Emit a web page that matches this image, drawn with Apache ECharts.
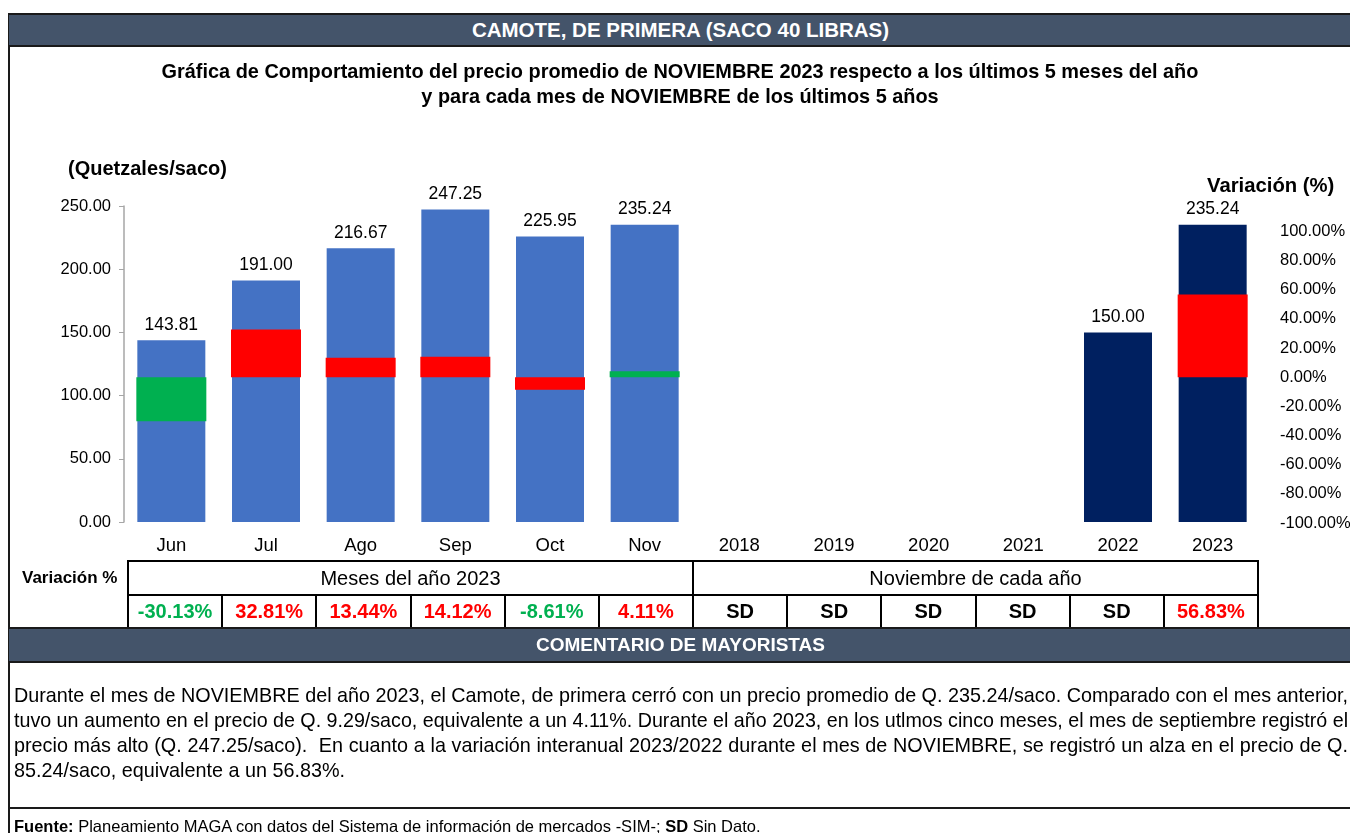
<!DOCTYPE html>
<html>
<head>
<meta charset="utf-8">
<script src="https://cdn.jsdelivr.net/npm/echarts@6.0.0/dist/echarts.min.js"></script>
<style>
  html, body { margin: 0; padding: 0; background: #fff; }
  body { width: 1350px; height: 833px; position: relative; overflow: hidden;
         font-family: 'Liberation Sans', Arial, sans-serif; color: #000; }
  #chart { position: absolute; left: 0; top: 0; width: 1350px; height: 833px; }
  .abs { position: absolute; }
  .band { position: absolute; left: 9px; width: 1343px; box-sizing: border-box;
          background: #44546A; border-top: 2px solid #1a1a1a; border-bottom: 2px solid #1a1a1a;
          color: #fff; font-weight: bold; text-align: center; white-space: nowrap; }
  .hl { position: absolute; height: 2px; background: #000; }
  .vl { position: absolute; width: 2px; background: #000; }
  .cell { position: absolute; text-align: center; white-space: nowrap; }
  .cline { position: absolute; left: 14px; white-space: nowrap; font-size: 19.8px; line-height: 25px; }
</style>
</head>
<body>
<div id="chart"></div>
<div id="overlay"></div>
<script>
// ---------------- data ----------------
const categories = ['Jun', 'Jul', 'Ago', 'Sep', 'Oct', 'Nov', '2018', '2019', '2020', '2021', '2022', '2023'];
const prices = [143.81, 191.00, 216.67, 247.25, 225.95, 235.24, null, null, null, null, 150.00, 235.24];
const variations = [-30.13, 32.81, 13.44, 14.12, -8.61, 4.11, null, null, null, null, null, 56.83];
const groupLabels = ['Meses del año 2023', 'Noviembre de cada año'];
const headerText = 'CAMOTE, DE PRIMERA (SACO 40 LIBRAS)';
const titleLines = ['Gráfica de Comportamiento del precio promedio de NOVIEMBRE 2023 respecto a los últimos 5 meses del año',
                    'y para cada mes de NOVIEMBRE de los últimos 5 años'];
const commentLines = [
  'Durante el mes de NOVIEMBRE del año 2023, el Camote, de primera cerró con un precio promedio de Q. 235.24/saco. Comparado con el mes anterior,',
  'tuvo un aumento en el precio de Q. 9.29/saco, equivalente a un 4.11%. Durante el año 2023, en los utlmos cinco meses, el mes de septiembre registró el',
  'precio más alto (Q. 247.25/saco).  En cuanto a la variación interanual 2023/2022 durante el mes de NOVIEMBRE, se registró un alza en el precio de Q.',
  '85.24/saco, equivalente a un 56.83%.'
];

// ---------------- styles ----------------
const FONT = "'Liberation Sans', Arial, sans-serif";
const priceColors = ['#4472C4', '#4472C4', '#4472C4', '#4472C4', '#4472C4', '#4472C4',
                     '#002060', '#002060', '#002060', '#002060', '#002060', '#002060'];
const varBarColors = ['#00B050', '#FF0000', '#FF0000', '#FF0000', '#FF0000', '#00B050',
                      '#FF0000', '#FF0000', '#FF0000', '#FF0000', '#FF0000', '#FF0000'];

// ---------------- chart ----------------
const chart = echarts.init(document.getElementById('chart'), null, { renderer: 'canvas' });
const option = {
  animation: false,
  textStyle: { fontFamily: FONT },
  title: [
    { text: titleLines.join('\n'), left: 680, top: 60, textAlign: 'center', padding: 0,
      textStyle: { fontSize: 19.9, fontWeight: 'bold', color: '#000', lineHeight: 25, fontFamily: FONT } },
    { text: '(Quetzales/saco)', left: 68, top: 159, padding: 0,
      textStyle: { fontSize: 20, fontWeight: 'bold', color: '#000', lineHeight: 20, fontFamily: FONT } },
    { text: 'Variación (%)', left: 1207, top: 176, padding: 0,
      textStyle: { fontSize: 20.3, fontWeight: 'bold', color: '#000', lineHeight: 20, fontFamily: FONT } }
  ],
  grid: [
    { left: 124, right: 90, top: 206, bottom: 311, containLabel: false, outerBoundsMode: 'none' },
    { left: 124, right: 90, top: 231.5, bottom: 310, containLabel: false, outerBoundsMode: 'none' }
  ],
  xAxis: [
    { type: 'category', gridIndex: 0, data: categories,
      axisLine: { show: false }, axisTick: { show: false },
      axisLabel: { color: '#000', fontSize: 18.5, margin: 14, fontFamily: FONT } },
    { type: 'category', gridIndex: 1, data: categories, show: false }
  ],
  yAxis: [
    { type: 'value', gridIndex: 0, min: 0, max: 250, interval: 50,
      axisLine: { show: true, lineStyle: { color: '#a6a6a6', width: 1.5 } },
      axisTick: { show: true, length: 5, lineStyle: { color: '#a6a6a6' } },
      splitLine: { show: false },
      axisLabel: { color: '#000', fontSize: 16.5, margin: 13, fontFamily: FONT,
                   formatter: v => v.toFixed(2) } },
    { type: 'value', gridIndex: 1, position: 'right', min: -100, max: 100, interval: 20,
      axisLine: { show: false }, axisTick: { show: false }, splitLine: { show: false },
      axisLabel: { color: '#000', fontSize: 16.5, margin: 20, align: 'left', fontFamily: FONT,
                   formatter: v => v.toFixed(2) + '%' } }
  ],
  series: [
    { name: 'Precio', type: 'bar', xAxisIndex: 0, yAxisIndex: 0, barWidth: 68, z: 2,
      data: prices.map((v, i) => ({ value: v, itemStyle: { color: priceColors[i] } })),
      label: { show: true, position: 'top', distance: 6, color: '#000', fontSize: 17.5, fontFamily: FONT,
               formatter: p => (p.value == null ? '' : Number(p.value).toFixed(2)) } },
    { name: 'Variación', type: 'bar', xAxisIndex: 1, yAxisIndex: 1, barWidth: 70, z: 3,
      data: variations.map((v, i) => ({ value: v, itemStyle: { color: varBarColors[i] } })) }
  ]
};
chart.setOption(option);

// ---------------- frame, table, comments ----------------
const ov = document.getElementById('overlay');
function add(html) { ov.insertAdjacentHTML('beforeend', html); }

// frame left border
add('<div class="abs" style="left:8px;top:13px;width:2px;height:820px;background:#1a1a1a"></div>');
// header band
add('<div class="band" style="top:13px;height:34px;line-height:30px;font-size:20.5px">' + headerText + '</div>');

// table
const tX0 = 128, tX1 = 1258, r1 = 561, r2 = 595, r3 = 628;
const cw = (tX1 - tX0) / categories.length;
add('<div class="hl" style="left:' + (tX0 - 1) + 'px;top:' + (r1 - 1) + 'px;width:' + (tX1 - tX0 + 2) + 'px"></div>');
add('<div class="hl" style="left:' + (tX0 - 1) + 'px;top:' + (r2 - 1) + 'px;width:' + (tX1 - tX0 + 2) + 'px"></div>');
add('<div class="vl" style="left:' + (tX0 - 1) + 'px;top:' + r1 + 'px;height:' + (r3 - r1) + 'px"></div>');
add('<div class="vl" style="left:' + (tX0 + cw * 6 - 1) + 'px;top:' + r1 + 'px;height:' + (r3 - r1) + 'px"></div>');
add('<div class="vl" style="left:' + (tX1 - 1) + 'px;top:' + r1 + 'px;height:' + (r3 - r1) + 'px"></div>');
for (let i = 1; i < categories.length; i++) {
  if (i === 6) continue;
  add('<div class="vl" style="left:' + (tX0 + cw * i - 1) + 'px;top:' + r2 + 'px;height:' + (r3 - r2) + 'px"></div>');
}
add('<div class="abs" style="left:22px;top:' + r1 + 'px;height:' + (r2 - r1) + 'px;line-height:' + (r2 - r1) + 'px;font-size:17px;font-weight:bold;white-space:nowrap">Variación %</div>');
add('<div class="cell" style="left:' + tX0 + 'px;width:' + (cw * 6) + 'px;top:' + r1 + 'px;line-height:' + (r2 - r1) + 'px;font-size:20px">' + groupLabels[0] + '</div>');
add('<div class="cell" style="left:' + (tX0 + cw * 6) + 'px;width:' + (cw * 6) + 'px;top:' + r1 + 'px;line-height:' + (r2 - r1) + 'px;font-size:20px">' + groupLabels[1] + '</div>');
variations.forEach((v, i) => {
  const txt = v == null ? 'SD' : v.toFixed(2) + '%';
  const col = v == null ? '#000' : (v < 0 ? '#00B050' : '#FF0000');
  add('<div class="cell" style="left:' + (tX0 + cw * i) + 'px;width:' + cw + 'px;top:' + r2 + 'px;line-height:' + (r3 - r2) + 'px;font-size:20px;font-weight:bold;color:' + col + '">' + txt + '</div>');
});

// comment band
add('<div class="band" style="top:627px;height:36px;line-height:32px;font-size:19px">COMENTARIO DE MAYORISTAS</div>');

// comment lines
const lineTop = 682.5, lineH = 25, targetW = 1334;
commentLines.forEach((t, i) => {
  const id = 'cl' + i;
  add('<div class="cline" id="' + id + '" style="top:' + (lineTop + i * lineH) + 'px">' + t.replace(/  /g, ' &nbsp;') + '</div>');
  const el = document.getElementById(id);
  if (i < commentLines.length - 1) {
    const w = el.getBoundingClientRect().width;
    const spaces = (t.match(/ /g) || []).length;
    if (w < targetW) {
      el.style.wordSpacing = ((targetW - w) / spaces) + 'px';
    } else {
      el.style.transformOrigin = '0 0';
      el.style.transform = 'scaleX(' + (targetW / w) + ')';
    }
  }
});

// footer
add('<div class="abs" style="left:9px;top:807px;width:1343px;height:2px;background:#1a1a1a"></div>');
add('<div class="abs" style="left:14px;top:816px;font-size:16.5px;line-height:20px;white-space:nowrap"><b>Fuente:</b> Planeamiento MAGA con datos del Sistema de información de mercados -SIM-; <b>SD</b> Sin Dato.</div>');
</script>
</body>
</html>
